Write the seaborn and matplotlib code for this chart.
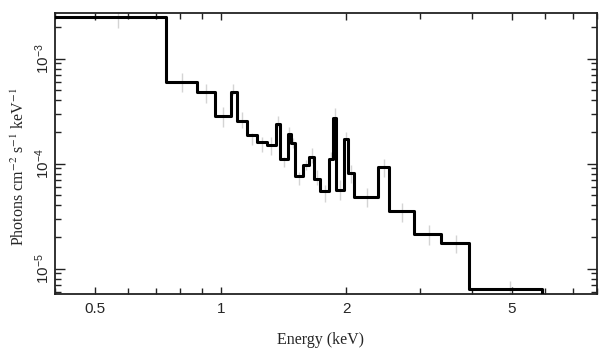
import numpy as np
import pandas as pd
import matplotlib
matplotlib.use('Agg')
import matplotlib.pyplot as plt
from matplotlib.ticker import FixedLocator, FixedFormatter, LogLocator, NullFormatter
import seaborn as sns

# model bin edges (keV) and folded model level in each bin
bin_edges = [0.35, 0.738, 0.876, 0.969, 1.056, 1.093, 1.153, 1.223, 1.290, 1.356,
             1.388, 1.446, 1.476, 1.509, 1.571, 1.627, 1.676, 1.733, 1.821, 1.858,
             1.890, 1.979, 2.016, 2.091, 2.388, 2.539, 2.904, 3.385, 3.937, 5.909]
model_flux = [2.51e-3, 6.06e-4, 4.78e-4, 2.82e-4, 4.78e-4, 2.55e-4, 1.86e-4, 1.61e-4,
              1.50e-4, 2.39e-4, 1.12e-4, 1.92e-4, 1.56e-4, 7.69e-5, 9.73e-5, 1.15e-4,
              7.10e-5, 5.49e-5, 1.11e-4, 2.74e-4, 5.62e-5, 1.71e-4, 8.11e-5, 4.79e-5,
              9.36e-5, 3.55e-5, 2.14e-5, 1.74e-5, 6.37e-6]

# data points (faint error bars)
data_energy = [0.567, 0.809, 0.922, 1.010, 1.072, 1.123, 1.187, 1.255, 1.319, 1.371,
               1.420, 1.459, 1.490, 1.543, 1.601, 1.655, 1.702, 1.775, 1.838, 1.876,
               1.935, 1.998, 2.053, 2.244, 2.460, 2.724, 3.155, 3.672, 4.932]
data_flux = [2.39e-3, 6.05e-4, 4.78e-4, 2.87e-4, 5.12e-4, 2.65e-4, 1.73e-4, 1.55e-4,
             1.51e-4, 2.55e-4, 1.05e-4, 2.00e-4, 1.58e-4, 7.30e-5, 9.80e-5, 1.21e-4,
             7.50e-5, 5.30e-5, 1.19e-4, 2.90e-4, 5.75e-5, 1.85e-4, 8.10e-5, 4.86e-5,
             9.20e-5, 3.50e-5, 2.15e-5, 1.75e-5, 6.50e-6]
data_err = [4.2e-4, 1.2e-4, 1.0e-4, 6.2e-5, 6.2e-5, 4.5e-5, 2.3e-5, 2.5e-5,
            3.0e-5, 3.0e-5, 1.2e-5, 2.5e-5, 1.7e-5, 1.06e-5, 1.05e-5, 2.0e-5,
            1.2e-5, 9.6e-6, 1.1e-5, 5.0e-5, 1.25e-5, 1.7e-5, 1.6e-5, 1.0e-5,
            1.8e-5, 7.0e-6, 4.6e-6, 3.5e-6, 1.1e-6]

x_ticks = [0.5, 1, 2, 5]
x_tick_labels = ['0.5', '1', '2', '5']
x_minor = [0.4, 0.6, 0.7, 0.8, 0.9, 3, 4, 6, 7, 8]
y_ticks = [1e-5, 1e-4, 1e-3]
y_tick_labels = [r'$10^{-5}$', r'$10^{-4}$', r'$10^{-3}$']
xlim = (0.4, 8.0)
ylim = (5.74e-6, 2.72e-3)

sns.set_theme(style='ticks')
plt.rcParams['font.family'] = ['Liberation Sans', 'DejaVu Sans']
plt.rcParams['mathtext.fontset'] = 'custom'
plt.rcParams['mathtext.rm'] = 'Liberation Sans'
plt.rcParams['mathtext.it'] = 'Liberation Sans:italic'
plt.rcParams['mathtext.bf'] = 'Liberation Sans:bold'

fig = plt.figure(figsize=(6.08, 3.57), dpi=100)
ax = fig.add_axes([0.0905, 0.1765, 0.8915, 0.787])

# error bars of the data
ax.vlines(data_energy,
          np.array(data_flux) - np.array(data_err),
          np.array(data_flux) + np.array(data_err),
          color='#d4d4d4', lw=1.0, zorder=1)

# model as a step line, dropping to the floor after the last bin
step_df = pd.DataFrame({
    'energy': bin_edges,
    'flux': model_flux + [ylim[0] * 0.5],
})
sns.lineplot(data=step_df, x='energy', y='flux', ax=ax, estimator=None, sort=False,
             drawstyle='steps-post', color='black', lw=2.2, zorder=3)

ax.set_xscale('log')
ax.set_yscale('log')
ax.set_xlim(*xlim)
ax.set_ylim(*ylim)

ax.xaxis.set_major_locator(FixedLocator(x_ticks))
ax.xaxis.set_major_formatter(FixedFormatter(x_tick_labels))
ax.xaxis.set_minor_locator(FixedLocator(x_minor))
ax.xaxis.set_minor_formatter(NullFormatter())
ax.yaxis.set_major_locator(FixedLocator(y_ticks))
ax.yaxis.set_major_formatter(FixedFormatter(y_tick_labels))
ax.yaxis.set_minor_locator(LogLocator(base=10, subs=np.arange(2, 10)))
ax.yaxis.set_minor_formatter(NullFormatter())

ax.tick_params(which='both', direction='in', top=True, right=True,
               color='#222222', width=1.0)
ax.tick_params(axis='x', which='major', length=5, labelsize=11, pad=6)
ax.tick_params(axis='x', which='minor', length=4)
ax.tick_params(axis='y', which='major', length=7, labelsize=11, pad=2)
ax.tick_params(axis='y', which='minor', length=4)
for lab in ax.get_yticklabels():
    lab.set_rotation(90)
    lab.set_va('center')

for sp in ax.spines.values():
    sp.set_linewidth(1.3)
    sp.set_color('#222222')

ax.set_xlabel('Energy (keV)', family='Liberation Serif', fontsize=11.5)
ax.set_ylabel(r'Photons cm$^{-2}$ s$^{-1}$ keV$^{-1}$', family='Liberation Serif',
              math_fontfamily='stix', fontsize=11.5)
ax.xaxis.set_label_coords(0.49, -0.135)
ax.yaxis.set_label_coords(-0.05, 0.455)

fig.savefig('out.png', dpi=100)
